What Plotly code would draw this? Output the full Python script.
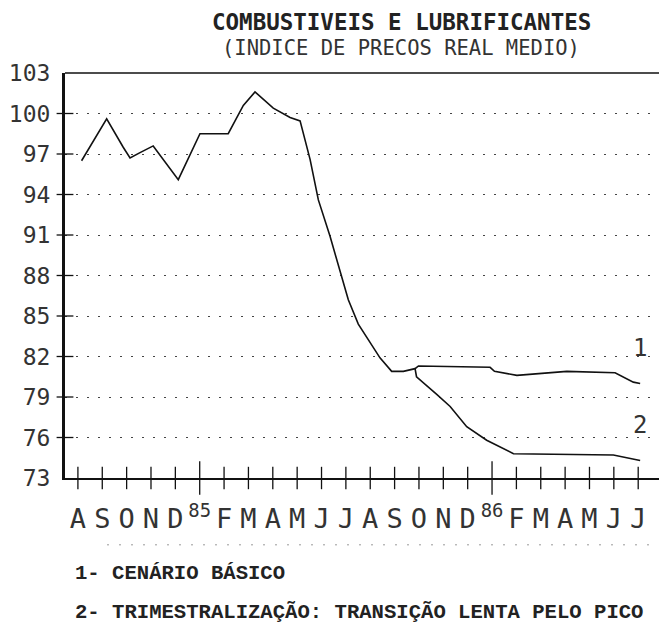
import plotly.graph_objects as go

# ---- data (x = month index, 0 = Aug 1984) ----
month_labels = ["A", "S", "O", "N", "D", "<sup>85</sup>", "F", "M", "A", "M", "J", "J",
                "A", "S", "O", "N", "D", "<sup>86</sup>", "F", "M", "A", "M", "J", "J"]
jan_months = [5, 17]

common_x = [0.15, 1.18, 1.86, 2.14, 2.55, 3.09, 4.12, 5.01, 6.17, 6.79, 7.27, 8.02, 8.71,
            9.12, 9.53, 9.87, 10.35, 10.76, 11.1, 11.51, 12.4, 12.88, 13.36, 13.84]
common_y = [96.5, 99.6, 97.5, 96.7, 97.1, 97.6, 95.1, 98.5, 98.5, 100.6, 101.6, 100.4, 99.7,
            99.45, 96.6, 93.6, 90.9, 88.4, 86.2, 84.4, 81.9, 80.9, 80.9, 81.1]

s1_x = [13.98, 16.92, 17.1, 18.02, 20.07, 22.05, 22.8, 23.08]
s1_y = [81.3, 81.2, 80.9, 80.6, 80.9, 80.8, 80.1, 80.0]

s2_x = [13.9, 14.73, 15.28, 15.96, 16.78, 17.88, 21.98, 23.08]
s2_y = [80.5, 79.2, 78.3, 76.8, 75.8, 74.8, 74.7, 74.3]

y_ticks = [73, 76, 79, 82, 85, 88, 91, 94, 97, 100, 103]

X_MIN, X_MAX = -0.53, 24.1
Y_MIN, Y_MAX = 73, 103

LINE = "#111111"
TXT = "#333333"

fig = go.Figure()

# series 1 (full path)
fig.add_trace(go.Scatter(x=common_x + s1_x, y=common_y + s1_y, mode="lines",
                         line=dict(color=LINE, width=1.6), hoverinfo="skip", showlegend=False))
# series 2 (diverging branch)
fig.add_trace(go.Scatter(x=[common_x[-1]] + s2_x, y=[common_y[-1]] + s2_y, mode="lines",
                         line=dict(color=LINE, width=1.6), hoverinfo="skip", showlegend=False))

# x tick marks crossing axis
months = list(range(len(month_labels)))
reg = [m for m in months if m not in jan_months]
fig.add_trace(go.Scatter(x=reg, y=[Y_MIN] * len(reg), mode="markers", cliponaxis=False,
                         marker=dict(symbol="line-ns", size=16, line=dict(color=LINE, width=1.3)),
                         hoverinfo="skip", showlegend=False))
fig.add_trace(go.Scatter(x=jan_months, y=[Y_MIN] * len(jan_months), mode="markers", cliponaxis=False,
                         marker=dict(symbol="line-ns", size=24, line=dict(color=LINE, width=1.3)),
                         hoverinfo="skip", showlegend=False))
# y tick marks crossing axis
fig.add_trace(go.Scatter(x=[X_MIN] * len(y_ticks[1:-1]), y=y_ticks[1:-1], mode="markers", cliponaxis=False,
                         marker=dict(symbol="line-ew", size=12, line=dict(color=LINE, width=1.3)),
                         hoverinfo="skip", showlegend=False))

fig.update_xaxes(range=[X_MIN, X_MAX], tickmode="array", tickvals=months, ticktext=month_labels,
                 showgrid=False, zeroline=False, showline=True, linecolor=LINE, linewidth=2,
                 ticks="outside", ticklen=16, tickcolor="rgba(0,0,0,0)", automargin=False,
                 tickfont=dict(family="DejaVu Sans Mono", size=27, color=TXT))
fig.update_yaxes(range=[Y_MIN, Y_MAX], tickmode="array", tickvals=y_ticks,
                 ticktext=[str(v) for v in y_ticks], automargin=False,
                 showgrid=True, gridcolor="#444444", gridwidth=1.4, griddash="2px,9px",
                 zeroline=False, showline=True, linecolor=LINE, linewidth=3,
                 ticks="outside", ticklen=7, tickcolor="rgba(0,0,0,0)",
                 tickfont=dict(family="DejaVu Sans Mono", size=23, color=TXT))

# borders
fig.add_shape(type="line", xref="paper", yref="paper", x0=0, x1=1, y0=1, y1=1,
              line=dict(color=LINE, width=1.6))
fig.add_shape(type="line", xref="paper", yref="paper", x0=1, x1=1, y0=0, y1=1,
              line=dict(color="#666666", width=1, dash="2px,4px"))
# faint dotted line below month labels
fig.add_shape(type="line", xref="paper", yref="paper", x0=0.07, x1=1, y0=-0.165, y1=-0.165,
              line=dict(color="#999999", width=1, dash="2px,10px"))

# series labels
fig.add_annotation(x=s1_x[-1], y=82.6, text="1", showarrow=False,
                   font=dict(family="DejaVu Sans Mono", size=24, color=TXT))
fig.add_annotation(x=s2_x[-1], y=76.9, text="2", showarrow=False,
                   font=dict(family="DejaVu Sans Mono", size=24, color=TXT))

# titles
fig.add_annotation(xref="paper", yref="paper", x=0.56, y=1.0, yshift=51, yanchor="middle",
                   text="<b>COMBUSTIVEIS E LUBRIFICANTES</b>", showarrow=False,
                   font=dict(family="DejaVu Sans Mono", size=22.5, color="#222222"))
fig.add_annotation(xref="paper", yref="paper", x=0.56, y=1.0, yshift=25, yanchor="middle",
                   text="(INDICE DE PRECOS REAL MEDIO)", showarrow=False,
                   font=dict(family="DejaVu Sans Mono", size=20.5, color=TXT))

# footnotes
fig.add_annotation(xref="paper", yref="paper", x=0.0, xshift=8, xanchor="left", y=-0.2346, yanchor="middle",
                   text="<b>1- CENÁRIO BÁSICO</b>", showarrow=False, align="left",
                   font=dict(family="Liberation Mono", size=20.6, color="#222222"))
fig.add_annotation(xref="paper", yref="paper", x=0.0, xshift=8, xanchor="left", y=-0.331, yanchor="middle",
                   text="<b>2- TRIMESTRALIZAÇÃO: TRANSIÇÃO LENTA PELO PICO</b>", showarrow=False,
                   align="left", font=dict(family="Liberation Mono", size=20.6, color="#222222"))

# page body has an 8px default margin, so size the figure to fit the 667x628 window
fig.update_layout(width=659, height=620, margin=dict(l=57, r=2, t=65, b=150),
                  paper_bgcolor="white", plot_bgcolor="white", showlegend=False)

fig.write_html("out.html")
